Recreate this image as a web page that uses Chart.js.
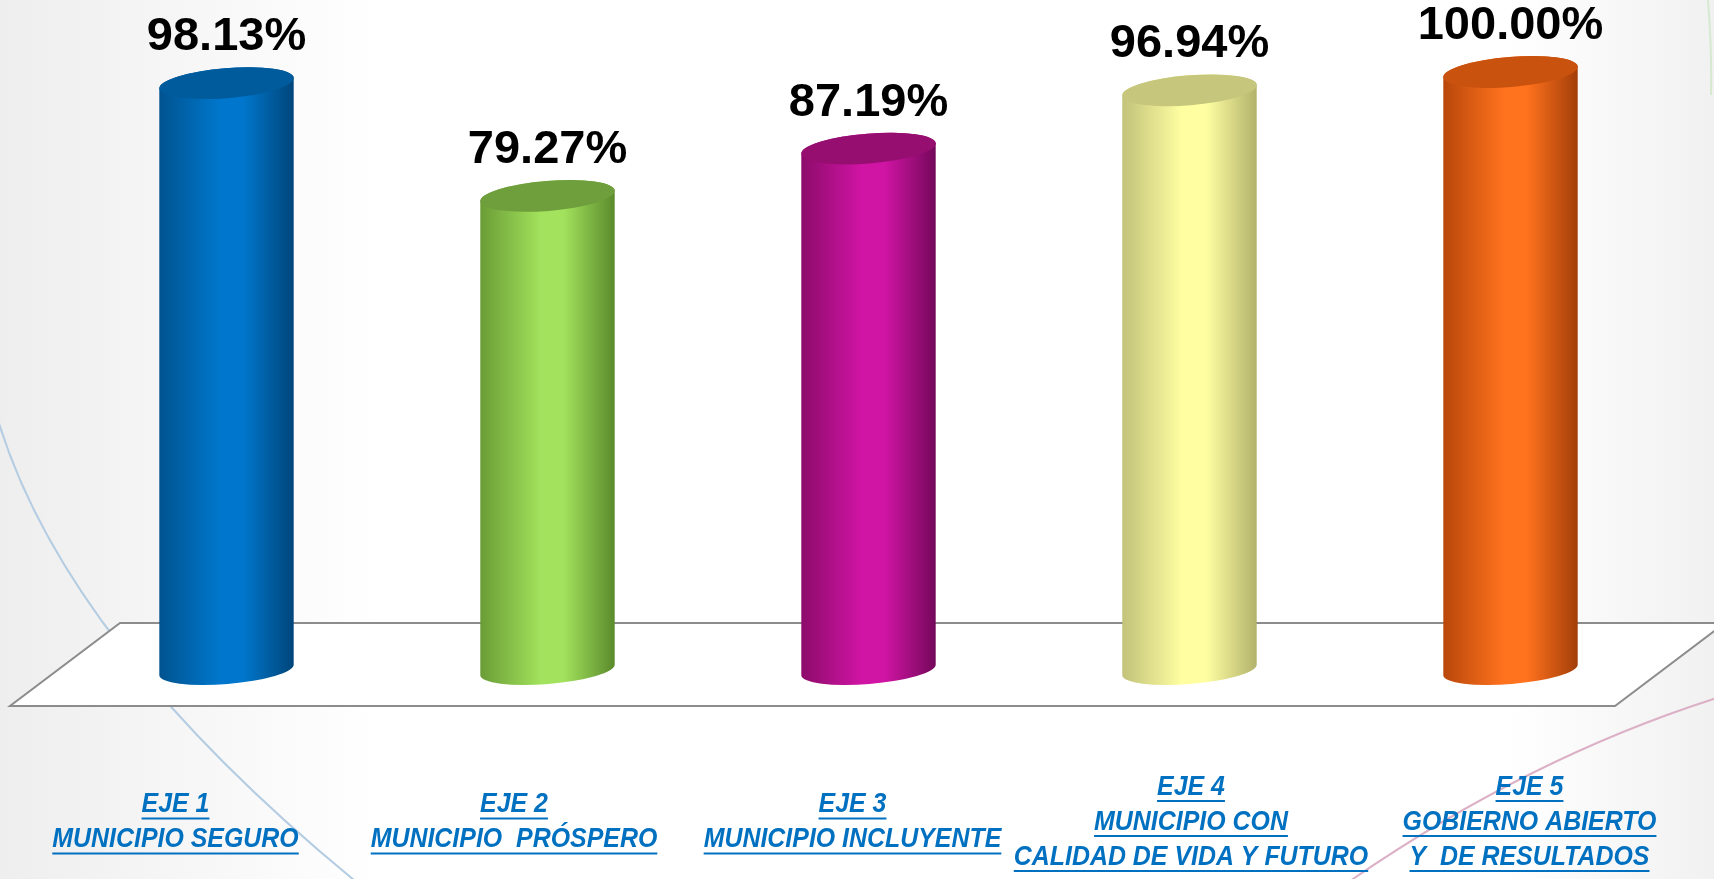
<!DOCTYPE html>
<html>
<head>
<meta charset="utf-8">
<script src="https://cdn.jsdelivr.net/npm/chart.js@4"></script>
<style>
  body { margin: 0; background: #ffffff; }
  #wrap { width: 1714px; height: 879px; position: relative; }
</style>
</head>
<body>
<div id="wrap"><canvas id="ejes"></canvas></div>
<script>
// datos
var ejes = [
    ['EJE 1', 'MUNICIPIO SEGURO'],
    ['EJE 2', 'MUNICIPIO  PRÓSPERO'],
    ['EJE 3', 'MUNICIPIO INCLUYENTE'],
    ['EJE 4', 'MUNICIPIO CON', 'CALIDAD DE VIDA Y FUTURO'],
    ['EJE 5', 'GOBIERNO ABIERTO', 'Y  DE RESULTADOS']
];
var avance = [98.13, 79.27, 87.19, 96.94, 100.00];

// colores de cada cilindro: [borde izq, centro, borde der, tapa]
var tonos = [
    ['#00538f', '#0077cc', '#00457a', '#005b9c'],
    ['#6a9c36', '#a2e25c', '#5a8a2c', '#6f9e3c'],
    ['#8c0b6a', '#d014a4', '#74085a', '#960e70'],
    ['#c2c27a', '#ffffa2', '#b2b26c', '#c6c67c'],
    ['#b8470a', '#ff721e', '#a23e08', '#c9520f']
];

var ctx = document.getElementById('ejes').getContext('2d');

// fondo con las curvas decorativas
var fondo = {
    id: 'fondo',
    beforeDraw: function (chart) {
        var c = chart.ctx, w = chart.width, h = chart.height;
        c.save();
        var g = c.createLinearGradient(0, 0, w, 0);
        g.addColorStop(0, '#eeeeee');
        g.addColorStop(0.22, '#ffffff');
        g.addColorStop(0.88, '#ffffff');
        g.addColorStop(1, '#f1f1f1');
        c.fillStyle = g;
        c.fillRect(0, 0, w, h);

        c.lineWidth = 2;
        c.strokeStyle = '#b4cde2';
        c.beginPath();
        c.moveTo(-5, 410);
        c.quadraticCurveTo(60, 640, 360, 885);
        c.stroke();

        c.strokeStyle = '#dcb0c6';
        c.beginPath();
        c.moveTo(1330, 895);
        c.quadraticCurveTo(1520, 760, 1720, 697);
        c.stroke();

        c.strokeStyle = '#d6ead0';
        c.beginPath();
        c.moveTo(1708, 0);
        c.quadraticCurveTo(1712, 50, 1711, 95);
        c.stroke();
        c.restore();
    }
};

// piso en perspectiva
var piso = {
    id: 'piso',
    beforeDatasetsDraw: function (chart) {
        var c = chart.ctx, a = chart.chartArea;
        var base = chart.scales.y.getPixelForValue(0);
        var atras = base - 47, frente = base + 36;
        c.save();
        c.beginPath();
        c.moveTo(a.left + 54, atras);
        c.lineTo(a.right + 54, atras);
        c.lineTo(a.right - 56, frente);
        c.lineTo(a.left - 56, frente);
        c.closePath();
        c.fillStyle = '#ffffff';
        c.fill();
        c.strokeStyle = '#8c8c8c';
        c.lineWidth = 2;
        c.stroke();
        c.restore();
    }
};

// cilindros, porcentajes y etiquetas subrayadas
var cilindros = {
    id: 'cilindros',
    afterDatasetsDraw: function (chart) {
        var c = chart.ctx, a = chart.chartArea;
        var meta = chart.getDatasetMeta(0);
        var giro = -0.08, ry = 15;
        c.save();
        meta.data.forEach(function (bar, i) {
            var x = bar.x, top = bar.y, base = bar.base, rx = bar.width / 2;
            var t = tonos[i];
            var g = c.createLinearGradient(x - rx, 0, x + rx, 0);
            g.addColorStop(0, t[0]);
            g.addColorStop(0.45, t[1]);
            g.addColorStop(0.62, t[1]);
            g.addColorStop(1, t[2]);
            c.beginPath();
            c.ellipse(x, base, rx, ry - 1, giro, 0, Math.PI);
            c.ellipse(x, top, rx, ry, giro, Math.PI, Math.PI * 2);
            c.closePath();
            c.fillStyle = g;
            c.fill();

            c.beginPath();
            c.ellipse(x, top, rx, ry, giro, 0, Math.PI * 2);
            c.fillStyle = t[3];
            c.fill();

            // valor
            c.fillStyle = '#000000';
            c.font = 'bold 47px "Liberation Sans", Arial, sans-serif';
            c.textAlign = 'center';
            c.textBaseline = 'middle';
            c.fillText(avance[i].toFixed(2) + '%', x, top - 46);
        });

        // etiquetas del eje
        var mid = (a.left + a.right) / 2;
        var base0 = chart.scales.y.getPixelForValue(0);
        c.font = 'bold italic 28px "Liberation Sans", Arial, sans-serif';
        c.textAlign = 'center';
        c.textBaseline = 'middle';
        c.fillStyle = '#0070c0';
        ejes.forEach(function (lineas, i) {
            var x = chart.scales.x.getPixelForValue(i);
            var lx = x + (x - mid) * 0.0545 - 16;
            var y0 = base0 + 152 - (lineas.length - 1) * 35 / 2;
            lineas.forEach(function (txt, k) {
                var y = y0 + k * 35;
                c.save();
                c.translate(lx, y);
                c.scale(0.89, 1);
                c.fillText(txt, 0, 0);
                var w = c.measureText(txt).width;
                c.fillRect(-w / 2, 13, w, 2);
                c.restore();
            });
        });
        c.restore();
    }
};

var grafica = new Chart(ctx, {
    type: 'bar',
    data: {
        labels: ejes,
        datasets: [
            {
                data: avance,
                backgroundColor: 'rgba(0, 0, 0, 0)',
                borderWidth: 0,
                barPercentage: 1,
                categoryPercentage: 0.42
            }
        ]
    },
    options: {
        responsive: true,
        maintainAspectRatio: false,
        animation: false,
        layout: { padding: { left: 66, right: 43, top: 72, bottom: 209 } },
        plugins: {
            legend: { display: false },
            tooltip: { enabled: false }
        },
        scales: {
            x: { display: false },
            y: { display: false, min: 0, max: 100 }
        }
    },
    plugins: [fondo, piso, cilindros]
});
</script>
</body>
</html>
